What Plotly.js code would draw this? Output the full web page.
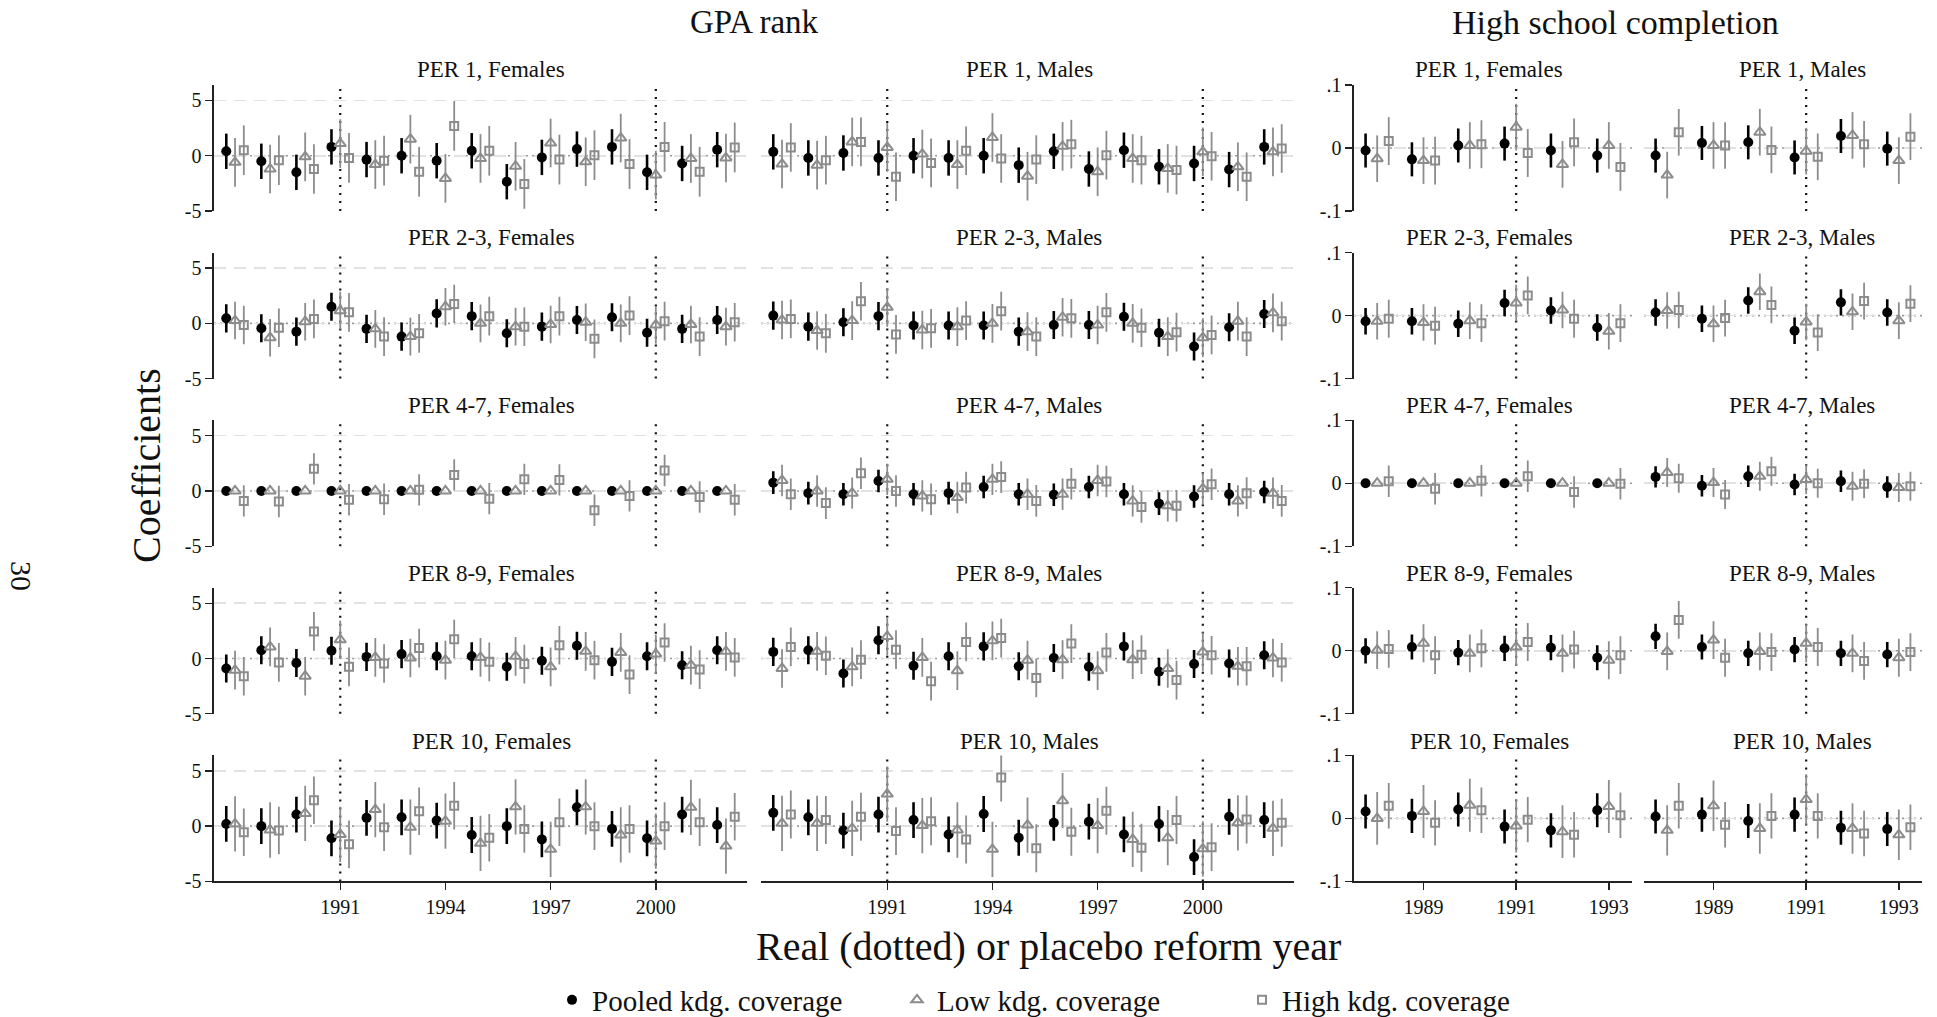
<!DOCTYPE html>
<html>
<head>
<meta charset="utf-8">
<script src="https://cdn.plot.ly/plotly-3.0.1.min.js"></script>
<style>html,body{margin:0;padding:0;background:#fff;}#chart{width:1937px;height:1017px;}</style>
</head>
<body>
<div id="chart"></div>
<script>
// ---------- DATA ----------
const gpaYears = [1988,1989,1990,1991,1992,1993,1994,1995,1996,1997,1998,1999,2000,2001,2002];
const hscYears = [1988,1989,1990,1991,1992,1993];
const gpaTicks = [1991,1994,1997,2000];
const hscTicks = [1989,1991,1993];
const gpaReformLines = [1991,2000];
const hscReformLines = [1991];
const seriesNames = ['Pooled kdg. coverage','Low kdg. coverage','High kdg. coverage'];
const panelTitles = ['PER 1','PER 2-3','PER 4-7','PER 8-9','PER 10'];
const genders = ['Females','Males'];

// GPA rank — coefficients (pooled / low / high) and CI half-widths [pooled, low, high]
const gpa_per1_f_pooled = [0.4,-0.5,-1.5,0.8,-0.35,0,-0.45,0.45,-2.35,-0.15,0.6,0.8,-1.5,-0.7,0.55];
const gpa_per1_f_low    = [-0.6,-1.2,-0.1,1.1,-0.8,1.5,-2.05,-0.25,-0.95,1.15,-0.55,1.6,-1.75,-0.25,-0.2];
const gpa_per1_f_high   = [0.5,-0.4,-1.2,-0.2,-0.45,-1.45,2.7,0.45,-2.55,-0.35,0.05,-0.75,0.8,-1.45,0.75];
const gpa_per1_f_ci     = [1.6,2.2,2.25];
const gpa_per1_m_pooled = [0.35,-0.2,0.25,-0.2,0,-0.2,0,-0.85,0.4,-1.2,0.5,-1.0,-0.7,-1.25,0.8];
const gpa_per1_m_low    = [-0.75,-0.85,1.25,0.75,0.15,-0.8,1.65,-1.85,0.85,-1.45,-0.25,-1.15,0.35,-1.0,0.35];
const gpa_per1_m_high   = [0.75,-0.4,1.25,-1.9,-0.65,0.45,-0.25,-0.35,1.05,0.05,-0.4,-1.3,-0.05,-1.9,0.65];
const gpa_per1_m_ci     = [1.6,2.2,2.2];

const gpa_per23_f_pooled = [0.45,-0.45,-0.75,1.5,-0.5,-1.2,0.9,0.65,-0.9,-0.3,0.3,0.55,-0.85,-0.5,0.3];
const gpa_per23_f_low    = [0.25,-1.3,0.15,1.15,-0.5,-1.2,1.5,0,-0.3,-0.1,0.1,0,-0.15,-0.1,-0.3];
const gpa_per23_f_high   = [-0.15,-0.4,0.4,1.0,-1.2,-0.9,1.75,0.65,-0.3,0.65,-1.4,0.7,0.2,-1.2,0.1];
const gpa_per23_f_ci     = [1.27,1.7,1.75];
const gpa_per23_m_pooled = [0.7,-0.3,0.1,0.65,-0.2,-0.2,-0.2,-0.75,-0.15,-0.15,0.6,-0.85,-2.1,-0.35,0.85];
const gpa_per23_m_low    = [0.3,-0.65,0.25,1.45,-0.6,-0.3,0,-0.75,0.55,-0.15,0,-1.2,-1.3,0.2,0.95];
const gpa_per23_m_high   = [0.4,-0.9,2.0,-1.0,-0.45,0.25,1.1,-1.2,0.45,1.0,-0.4,-0.8,-1.05,-1.2,0.2];
const gpa_per23_m_ci     = [1.27,1.75,1.75];

const gpa_per47_f_pooled = [0,0,0,0,0,0,0,0,0,0,0,0,0,0,0];
const gpa_per47_f_low    = [0,0,0,0,0,0,0,0,0,0,0,0,0,0,0];
const gpa_per47_f_high   = [-0.9,-0.95,2.0,-0.8,-0.75,0.1,1.45,-0.7,1.05,1.0,-1.75,-0.45,1.85,-0.55,-0.8];
const gpa_per47_f_ci     = [0,0,1.42];
const gpa_per47_m_pooled = [0.75,-0.2,-0.3,0.9,-0.3,-0.2,0.35,-0.3,-0.35,0.35,-0.3,-1.15,-0.5,-0.3,-0.1];
const gpa_per47_m_low    = [0.95,0,-0.2,1.05,-0.45,-0.6,1.05,-0.3,-0.3,0.95,-0.9,-1.35,0.2,-0.9,-0.2];
const gpa_per47_m_high   = [-0.3,-1.1,1.6,0,-0.75,0.3,1.25,-0.9,0.65,0.85,-1.45,-1.35,0.6,-0.2,-0.9];
const gpa_per47_m_ci     = [1.02,1.42,1.43];

const gpa_per89_f_pooled = [-0.9,0.75,-0.4,0.7,0.15,0.4,0.2,0.2,-0.75,-0.2,1.15,-0.3,0.2,-0.6,0.75];
const gpa_per89_f_low    = [-1.05,1.05,-1.6,1.7,0.1,0.05,-0.15,0.1,0.2,-0.75,0.65,0.55,0.4,-0.6,0.65];
const gpa_per89_f_high   = [-1.6,-0.35,2.45,-0.75,-0.45,0.95,1.75,-0.3,-0.5,1.2,-0.15,-1.45,1.45,-1.0,0.1];
const gpa_per89_f_ci     = [1.27,1.75,1.75];
const gpa_per89_m_pooled = [0.6,0.75,-1.35,1.65,-0.65,0.2,1.1,-0.7,0.05,-0.75,1.1,-1.2,-0.5,-0.45,0.3];
const gpa_per89_m_low    = [-0.9,0.65,-0.75,2.0,0.1,-1.1,1.6,-0.15,-0.1,-1.1,-0.1,-0.9,0.6,-0.7,0.05];
const gpa_per89_m_high   = [1.05,0.25,-0.1,0.8,-2.05,1.5,1.85,-1.75,1.35,0.55,0.35,-1.95,0.3,-0.7,-0.35];
const gpa_per89_m_ci     = [1.27,1.75,1.75];

const gpa_per10_f_pooled = [0.2,0,1.05,-1.1,0.75,0.8,0.5,-0.8,0,-1.2,1.7,-0.25,-1.1,1.05,0.1];
const gpa_per10_f_low    = [0.2,-0.35,1.15,-0.75,1.5,-0.1,0.45,-1.55,1.75,-2.1,1.75,-0.8,-1.35,1.7,-1.8];
const gpa_per10_f_high   = [-0.55,-0.4,2.35,-1.65,-0.1,1.35,1.85,-1.05,-0.25,0.35,0,-0.25,0,0.35,0.85];
const gpa_per10_f_ci     = [1.62,2.5,2.15];
const gpa_per10_m_pooled = [1.2,0.8,-0.4,1.05,0.55,-0.75,1.1,-1.05,0.3,0.4,-0.75,0.2,-2.8,0.85,0.55];
const gpa_per10_m_low    = [0.25,0.25,-0.2,2.9,0.05,-0.35,-2.1,0.1,2.3,0.05,-1.2,-1.05,-2.05,0.3,-0.2];
const gpa_per10_m_high   = [1.05,0.55,0.85,-0.45,0.45,-1.2,4.4,-2.0,-0.5,1.4,-1.95,0.55,-1.9,0.6,0.3];
const gpa_per10_m_ci     = [1.62,2.5,2.17];

// High school completion
const hsc_per1_f_pooled = [-0.004,-0.018,0.004,0.007,-0.004,-0.012];
const hsc_per1_f_low    = [-0.017,-0.02,0.004,0.033,-0.026,0.004];
const hsc_per1_f_high   = [0.011,-0.02,0.006,-0.008,0.009,-0.03];
const hsc_per1_f_ci     = [0.027,0.037,0.038];
const hsc_per1_m_pooled = [-0.012,0.008,0.009,-0.015,0.019,-0.001];
const hsc_per1_m_low    = [-0.043,0.004,0.025,-0.005,0.02,-0.02];
const hsc_per1_m_high   = [0.025,0.004,-0.003,-0.014,0.006,0.018];
const hsc_per1_m_ci     = [0.027,0.037,0.037];

const hsc_per23_f_pooled = [-0.009,-0.009,-0.013,0.02,0.008,-0.019];
const hsc_per23_f_low    = [-0.009,-0.011,-0.008,0.02,0.009,-0.025];
const hsc_per23_f_high   = [-0.005,-0.016,-0.012,0.032,-0.005,-0.012];
const hsc_per23_f_ci     = [0.021,0.029,0.03];
const hsc_per23_m_pooled = [0.005,-0.005,0.024,-0.024,0.021,0.005];
const hsc_per23_m_low    = [0.008,-0.013,0.038,-0.01,0.006,-0.008];
const hsc_per23_m_high   = [0.009,-0.004,0.017,-0.027,0.023,0.019];
const hsc_per23_m_ci     = [0.021,0.029,0.029];

const hsc_per47_f_pooled = [0,0,0,0,0,0];
const hsc_per47_f_low    = [0,0,0,0,0,0];
const hsc_per47_f_high   = [0.003,-0.009,0.004,0.011,-0.014,-0.001];
const hsc_per47_f_ci     = [0,0,0.025];
const hsc_per47_m_pooled = [0.01,-0.004,0.011,-0.002,0.003,-0.006];
const hsc_per47_m_low    = [0.017,0.001,0.011,0.006,-0.005,-0.007];
const hsc_per47_m_high   = [0.008,-0.018,0.019,0,-0.001,-0.005];
const hsc_per47_m_ci     = [0.017,0.023,0.023];

const hsc_per89_f_pooled = [0,0.006,-0.003,0.004,0.005,-0.011];
const hsc_per89_f_low    = [0.001,0.012,-0.004,0.006,-0.004,-0.015];
const hsc_per89_f_high   = [0.003,-0.007,0.004,0.014,0.002,-0.007];
const hsc_per89_f_ci     = [0.02,0.03,0.03];
const hsc_per89_m_pooled = [0.023,0.006,-0.004,0.002,-0.004,-0.006];
const hsc_per89_m_low    = [-0.001,0.017,-0.001,0.012,-0.004,-0.011];
const hsc_per89_m_high   = [0.049,-0.011,-0.002,0.006,-0.016,-0.002];
const hsc_per89_m_ci     = [0.02,0.03,0.03];

const hsc_per10_f_pooled = [0.011,0.004,0.014,-0.013,-0.019,0.013];
const hsc_per10_f_low    = [0,0.011,0.021,-0.012,-0.021,0.019];
const hsc_per10_f_high   = [0.02,-0.007,0.013,-0.002,-0.026,0.005];
const hsc_per10_f_ci     = [0.027,0.042,0.036];
const hsc_per10_m_pooled = [0.003,0.006,-0.004,0.006,-0.015,-0.017];
const hsc_per10_m_low    = [-0.019,0.02,-0.016,0.03,-0.016,-0.026];
const hsc_per10_m_high   = [0.02,-0.01,0.004,0.004,-0.024,-0.014];
const hsc_per10_m_ci     = [0.027,0.04,0.036];

// ---------- PANEL TABLE ----------
const panelData = [
  [[gpa_per1_f_pooled,gpa_per1_f_low,gpa_per1_f_high,gpa_per1_f_ci],[gpa_per1_m_pooled,gpa_per1_m_low,gpa_per1_m_high,gpa_per1_m_ci],
   [hsc_per1_f_pooled,hsc_per1_f_low,hsc_per1_f_high,hsc_per1_f_ci],[hsc_per1_m_pooled,hsc_per1_m_low,hsc_per1_m_high,hsc_per1_m_ci]],
  [[gpa_per23_f_pooled,gpa_per23_f_low,gpa_per23_f_high,gpa_per23_f_ci],[gpa_per23_m_pooled,gpa_per23_m_low,gpa_per23_m_high,gpa_per23_m_ci],
   [hsc_per23_f_pooled,hsc_per23_f_low,hsc_per23_f_high,hsc_per23_f_ci],[hsc_per23_m_pooled,hsc_per23_m_low,hsc_per23_m_high,hsc_per23_m_ci]],
  [[gpa_per47_f_pooled,gpa_per47_f_low,gpa_per47_f_high,gpa_per47_f_ci],[gpa_per47_m_pooled,gpa_per47_m_low,gpa_per47_m_high,gpa_per47_m_ci],
   [hsc_per47_f_pooled,hsc_per47_f_low,hsc_per47_f_high,hsc_per47_f_ci],[hsc_per47_m_pooled,hsc_per47_m_low,hsc_per47_m_high,hsc_per47_m_ci]],
  [[gpa_per89_f_pooled,gpa_per89_f_low,gpa_per89_f_high,gpa_per89_f_ci],[gpa_per89_m_pooled,gpa_per89_m_low,gpa_per89_m_high,gpa_per89_m_ci],
   [hsc_per89_f_pooled,hsc_per89_f_low,hsc_per89_f_high,hsc_per89_f_ci],[hsc_per89_m_pooled,hsc_per89_m_low,hsc_per89_m_high,hsc_per89_m_ci]],
  [[gpa_per10_f_pooled,gpa_per10_f_low,gpa_per10_f_high,gpa_per10_f_ci],[gpa_per10_m_pooled,gpa_per10_m_low,gpa_per10_m_high,gpa_per10_m_ci],
   [hsc_per10_f_pooled,hsc_per10_f_low,hsc_per10_f_high,hsc_per10_f_ci],[hsc_per10_m_pooled,hsc_per10_m_low,hsc_per10_m_high,hsc_per10_m_ci]]
];

// ---------- STYLE / LAYOUT ----------
const W = 1937, H = 1017;
const FONT = '"Liberation Serif", "Times New Roman", serif';
const GRAY = '#8c8c8c';
const colPx = [[214,747],[761,1294],[1354,1632],[1644,1922]];
const titleCx = [491,1029,1489,1802];
const rowTop0 = 85, rowH = 126, rowPitch = 167.6;
const offsets = [-0.25, 0, 0.25];
const styles = [
  {symbol:'circle', color:'#000', size:10, lw:0, ecolor:'#000', eth:2.6},
  {symbol:'triangle-up-open', color:GRAY, size:10, lw:2, ecolor:GRAY, eth:1.8},
  {symbol:'square-open', color:GRAY, size:8, lw:2, ecolor:GRAY, eth:1.8}
];

const traces = [];
const layout = {
  width: W, height: H,
  margin: {l:0, r:0, t:0, b:0, autoexpand: false},
  paper_bgcolor: '#fff', plot_bgcolor: '#fff',
  font: {family: FONT, color: '#111', size: 18},
  showlegend: true,
  legend: {orientation:'h', x:552/W, xanchor:'left', y:1-1000/H, yanchor:'middle',
           entrywidth: 300, entrywidthmode: 'pixels', borderwidth: 0,
           font:{family:FONT, size:29, color:'#111'}, traceorder:'normal'},
  shapes: [], annotations: []
};

for (let r = 0; r < 5; r++) {
  for (let c = 0; c < 4; c++) {
    const k = r*4 + c + 1;
    const xs = k === 1 ? '' : String(k);
    const isGpa = c < 2;
    const years = isGpa ? gpaYears : hscYears;
    const [pooled, low, high, ci] = panelData[r][c];
    const vals = [pooled, low, high];
    const top = rowTop0 + r*rowPitch, bot = top + rowH;
    const xr = isGpa ? [1987.4, 2002.6] : [1987.5, 1993.5];
    const yr = isGpa ? [-5, 6.4] : [-0.1, 0.1];
    const bottomRow = r === 4;
    const leftCol = (c === 0 || c === 2);

    layout['xaxis'+xs] = {
      domain: [colPx[c][0]/W, colPx[c][1]/W], anchor: 'y'+xs, range: xr, autorange: false,
      showgrid: false, zeroline: false, automargin: false,
      showline: bottomRow, linecolor: '#222', linewidth: 1.6,
      ticks: bottomRow ? 'outside' : '', ticklen: 7, tickwidth: 1.4, tickcolor: '#222',
      tickvals: isGpa ? gpaTicks : hscTicks, showticklabels: bottomRow,
      tickfont: {family: FONT, size: 20, color: '#111'}, fixedrange: true
    };
    layout['yaxis'+xs] = {
      domain: [1 - bot/H, 1 - top/H], anchor: 'x'+xs, range: yr, autorange: false,
      showgrid: true, gridcolor: '#e2e2e2', gridwidth: 1.6, griddash: '12px,8px', zeroline: false, automargin: false,
      tickvals: isGpa ? [-5,0,5] : [-0.1,0,0.1],
      ticktext: isGpa ? ['-5','0','5'] : ['-.1','0','.1'],
      showticklabels: leftCol, showline: leftCol, linecolor: '#222', linewidth: 1.6,
      ticks: leftCol ? 'outside' : '', ticklen: 7, tickwidth: 1.4, tickcolor: '#222',
      tickfont: {family: FONT, size: 20, color: '#111'}, fixedrange: true
    };

    // zero reference line (dotted)
    layout.shapes.push({type:'line', layer:'below', xref:'x'+xs+' domain', yref:'y'+xs,
      x0:0, x1:1, y0:0, y1:0, line:{color:'#9a9a9a', width:1.6, dash:'2px,4px'}});
    // real reform year(s) (dotted vertical)
    (isGpa ? gpaReformLines : hscReformLines).forEach(yv => {
      layout.shapes.push({type:'line', layer:'below', xref:'x'+xs, yref:'y'+xs+' domain',
        x0:yv, x1:yv, y0:0, y1:1, line:{color:'#111', width:2.2, dash:'2px,6px'}});
    });

    // panel title
    layout.annotations.push({xref:'paper', yref:'paper', x: titleCx[c]/W, y: 1 - (69.5 + r*168)/H,
      text: panelTitles[r] + ', ' + genders[c % 2], showarrow:false, xanchor:'center', yanchor:'middle',
      font:{family:FONT, size:23, color:'#111'}});

    for (let s = 0; s < 3; s++) {
      const st = styles[s];
      traces.push({
        type: 'scatter', mode: 'markers', xaxis: 'x'+xs, yaxis: 'y'+xs,
        x: years.map(y => y + offsets[s]), y: vals[s],
        name: seriesNames[s], legendgroup: seriesNames[s], showlegend: k === 1,
        marker: {symbol: st.symbol, size: st.size, color: st.color, line: {color: st.color, width: st.lw}},
        error_y: {type:'constant', value: ci[s], visible: ci[s] > 0, width: 0, thickness: st.eth, color: st.ecolor},
        hoverinfo: 'skip', cliponaxis: false
      });
    }
  }
}

// block titles, axis titles, page number
layout.annotations.push(
  {xref:'paper', yref:'paper', x:754/W, y:1-22/H, xanchor:'center', yanchor:'middle', text:'GPA rank', showarrow:false, font:{family:FONT, size:33, color:'#111'}},
  {xref:'paper', yref:'paper', x:1615/W, y:1-22/H, xanchor:'center', yanchor:'middle', text:'High school completion', showarrow:false, font:{family:FONT, size:34, color:'#111'}},
  {xref:'paper', yref:'paper', x:146/W, y:1-466/H, xanchor:'center', yanchor:'middle', text:'Coefficients', textangle:-90, showarrow:false, font:{family:FONT, size:40, color:'#111'}},
  {xref:'paper', yref:'paper', x:1048/W, y:1-946/H, xanchor:'center', yanchor:'middle', text:'Real (dotted) or placebo reform year', showarrow:false, font:{family:FONT, size:40, color:'#111'}},
  {xref:'paper', yref:'paper', x:22/W, y:1-576/H, xanchor:'center', yanchor:'middle', text:'30', textangle:90, showarrow:false, font:{family:FONT, size:30, color:'#111'}}
);

Plotly.newPlot('chart', traces, layout, {staticPlot: true, displayModeBar: false});
</script>
</body>
</html>
